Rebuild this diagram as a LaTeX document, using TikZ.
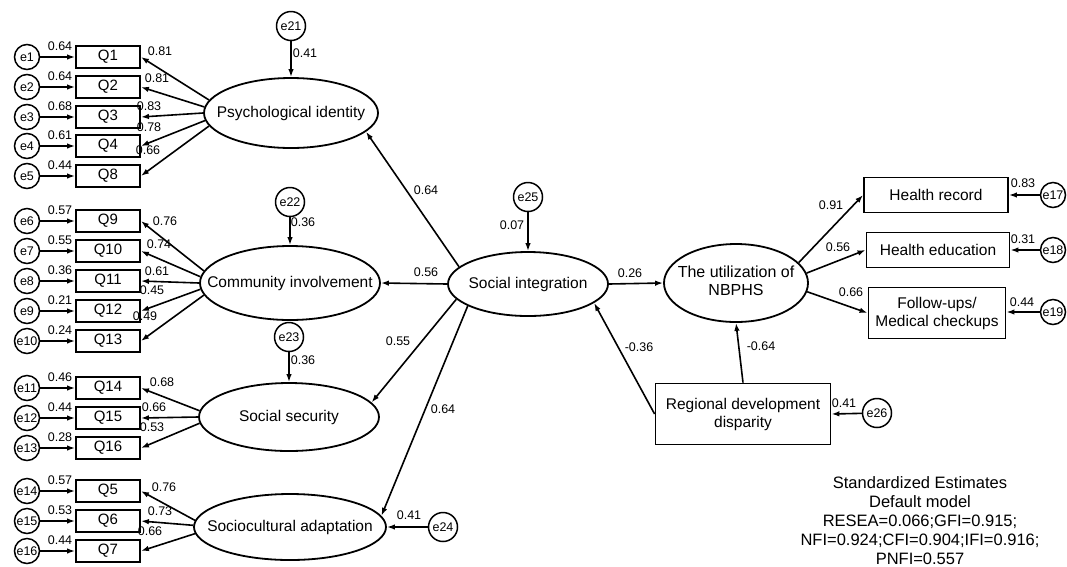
\documentclass[tikz,border=0pt]{standalone}
\usepackage{fontspec}
\setmainfont{Liberation Sans}
\usetikzlibrary{shapes.geometric,arrows.meta}
\begin{document}
\begin{tikzpicture}[x=1pt,y=-1pt,
  lat/.style={ellipse, draw, line width=1.8pt, inner sep=0pt, font=\fontsize{15.5}{18}\selectfont},
  obs/.style={rectangle, draw, line width=1.8pt, inner sep=0pt, minimum width=64pt, minimum height=22pt, font=\fontsize{15}{18}\selectfont},
  bigbox/.style={rectangle, draw, line width=1.8pt, inner sep=0pt, align=center, font=\fontsize{15.5}{18}\selectfont},
  errs/.style={circle, draw, line width=1.5pt, inner sep=0pt, minimum size=25pt, font=\fontsize{12.5}{14}\selectfont},
  errb/.style={circle, draw, line width=1.5pt, inner sep=0pt, minimum size=29pt, font=\fontsize{12.5}{14}\selectfont},
  num/.style={inner sep=0pt, font=\fontsize{12.5}{14}\selectfont},
  arr/.style={line width=1.6pt, -{Latex[length=8pt,width=5.5pt]}},
  note/.style={inner sep=0pt, align=center, font=\fontsize{16.5}{18.8}\selectfont}
]
\useasboundingbox (0,0) rectangle (1067,566);

% latent variables
\node[lat, minimum width=174pt, minimum height=70pt] (PI) at (291,113) {\makebox[0pt]{Psychological identity}};
\node[lat, minimum width=180pt, minimum height=74pt] (CI) at (290,283) {\makebox[0pt]{Community involvement}};
\node[lat, minimum width=180pt, minimum height=68pt] (SS) at (289,417) {\makebox[0pt]{Social security}};
\node[lat, minimum width=192pt, minimum height=66pt] (SA) at (290,527) {\makebox[0pt]{Sociocultural adaptation}};
\node[lat, minimum width=160pt, minimum height=64pt] (SI) at (528,284) {\makebox[0pt]{Social integration}};
\node[lat, minimum width=144pt, minimum height=78pt, font=\fontsize{16}{18}\selectfont] (NB) at (736,283) {\makebox[0pt]{\begin{tabular}{@{}c@{}}The utilization of\\NBPHS\end{tabular}}};

% observed boxes on the right
\node[bigbox, minimum width=144pt, minimum height=35pt] (HR) at (936,195) {Health record};
\node[bigbox, minimum width=143pt, minimum height=35pt] (HE) at (938,250) {Health education};
\node[bigbox, minimum width=137pt, minimum height=51pt] (FU) at (937,313) {Follow-ups/\\Medical checkups};
\node[bigbox, minimum width=175pt, minimum height=61pt] (RD) at (743,414) {Regional development\\disparity};

% left indicators
\foreach \q/\e/\y/\v in {1/1/57/0.64, 2/2/87/0.64, 3/3/117/0.68, 4/4/146/0.61, 8/5/176/0.44,
  9/6/221/0.57, 10/7/251/0.55, 11/8/281/0.36, 12/9/311/0.21, 13/10/341/0.24,
  14/11/388/0.46, 15/12/418/0.44, 16/13/448/0.28,
  5/14/491/0.57, 6/15/521/0.53, 7/16/551/0.44} {
  \node[obs] (Q\q) at (108,\y) {Q\q};
  \node[errs] (e\e) at (27,\y) {e\e};
  \draw[arr] (e\e) -- (Q\q);
  \node[num] (v\e) at (60,\y-10.5) {\v};
}

% loadings
\draw[arr] (PI.171) -- (Q1.east);
\draw[arr] (PI.176) -- (Q2.east);
\draw[arr] (PI.180) -- (Q3.east);
\draw[arr] (PI.185) -- (Q4.east);
\draw[arr] (PI.189) -- (Q8.east);
\node[num] (l1) at (160,51) {0.81};
\node[num] (l2) at (157,78) {0.81};
\node[num] (l3) at (149,106) {0.83};
\node[num] (l4) at (149,127) {0.78};
\node[num] (l8) at (148,150) {0.66};

\draw[arr] (CI.172) -- (Q9.east);
\draw[arr] (CI.176) -- (Q10.east);
\draw[arr] (CI.180) -- (Q11.east);
\draw[arr] (CI.184) -- (Q12.east);
\draw[arr] (CI.188) -- (Q13.east);
\node[num] (l9) at (165,221) {0.76};
\node[num] (l10) at (159,244) {0.74};
\node[num] (l11) at (157,271) {0.61};
\node[num] (l12) at (152,290) {0.45};
\node[num] (l13) at (145,316) {0.49};

\draw[arr] (SS.176) -- (Q14.east);
\draw[arr] (SS.180) -- (Q15.east);
\draw[arr] (SS.184) -- (Q16.east);
\node[num] (l14) at (162,382) {0.68};
\node[num] (l15) at (154,407) {0.66};
\node[num] (l16) at (152,427) {0.53};

\draw[arr] (SA.176) -- (Q5.east);
\draw[arr] (SA.179) -- (Q6.east);
\draw[arr] (SA.184) -- (Q7.east);
\node[num] (l5) at (164,487) {0.76};
\node[num] (l6) at (160,511) {0.73};
\node[num] (l7) at (150,531) {0.66};

% disturbances
\node[errb] (e21) at (291,26) {e21};
\node[errb] (e22) at (290,202) {e22};
\node[errb] (e23) at (289,337) {e23};
\node[errb] (e24) at (443,527) {e24};
\node[errb] (e25) at (528,197) {e25};
\node[errb] (e26) at (877,413) {e26};
\draw[arr] (e21) -- (PI.north);
\draw[arr] (e22) -- (CI.north);
\draw[arr] (e23) -- (SS.north);
\draw[arr] (e24) -- (SA.east);
\draw[arr] (e25) -- (SI.north);
\draw[arr] (e26) -- (RD.east);
\node[num] (r21) at (305,53) {0.41};
\node[num] (r22) at (303,222) {0.36};
\node[num] (r23) at (303,360) {0.36};
\node[num] (r24) at (409,515) {0.41};
\node[num] (r25) at (512,225) {0.07};
\node[num] (r26) at (844,403) {0.41};

% right error terms
\node[errs] (e17) at (1053,195) {e17};
\node[errs] (e18) at (1053,250) {e18};
\node[errs] (e19) at (1053,312) {e19};
\draw[arr] (e17) -- (HR.east);
\draw[arr] (e18) -- (HE.east);
\draw[arr] (e19.west) -- (FU.east |- e19.west);
\node[num] (r17) at (1023,183) {0.83};
\node[num] (r18) at (1023,239) {0.31};
\node[num] (r19) at (1022,302) {0.44};

% structural paths
\draw[arr] (SI.166) -- (PI.346);
\draw[arr] (SI.west) -- (CI.east);
\draw[arr] (SI.192) -- (SS.10);
\draw[arr] (SI.200) -- (SA.7);
\draw[arr] (SI.east) -- (NB.west);
\draw[arr] (RD.west) -- (SI.344);
\draw[arr] (RD.north) -- (NB.south);
\node[num] (p1) at (426,190) {0.64};
\node[num] (p2) at (426,272) {0.56};
\node[num] (p3) at (398,341) {0.55};
\node[num] (p4) at (443,409) {0.64};
\node[num] (p5) at (630,273) {0.26};
\node[num] (p6) at (639,347) {-0.36};
\node[num] (p7) at (761,346) {-0.64};

\draw[arr] (NB.18) -- (HR.west);
\draw[arr] (NB.8) -- (HE.west);
\draw[arr] (NB.-7) -- (FU.west);
\node[num] (m1) at (831,205) {0.91};
\node[num] (m2) at (838,247) {0.56};
\node[num] (m3) at (851,292) {0.66};

\node[note] (fit) at (920,520.5) {Standardized Estimates\\Default model\\RESEA=0.066;GFI=0.915;\\NFI=0.924;CFI=0.904;IFI=0.916;\\PNFI=0.557};
\end{tikzpicture}
\end{document}
